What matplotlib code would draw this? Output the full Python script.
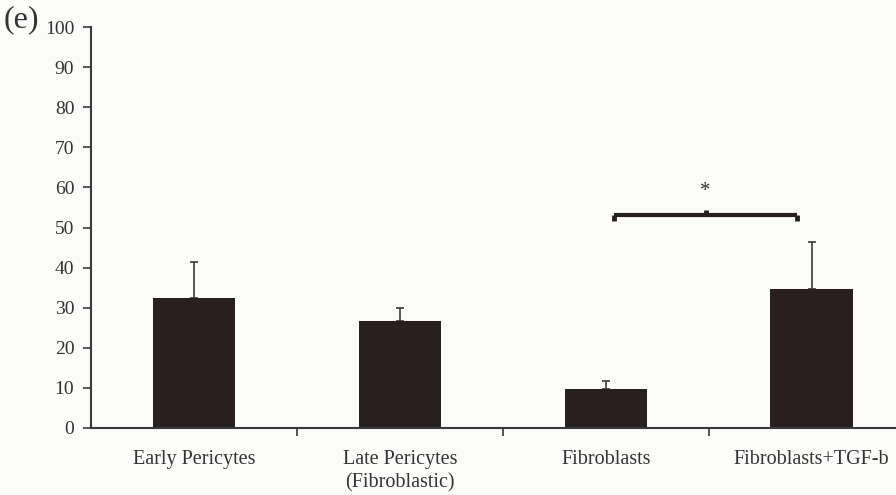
import matplotlib
matplotlib.use("Agg")
import matplotlib.pyplot as plt
import numpy as np

# Data
categories = ["Early Pericytes", "Late Pericytes\n(Fibroblastic)", "Fibroblasts", "Fibroblasts+TGF-b"]
values = [32.3, 26.6, 9.7, 34.7]
errors = [9.2, 3.4, 2.0, 11.8]
yticks = [0, 10, 20, 30, 40, 50, 60, 70, 80, 90, 100]
bracket_y = 53.0

plt.rcParams["font.family"] = ["Liberation Serif", "DejaVu Serif"]

fig = plt.figure(figsize=(8.96, 4.95), dpi=100)
fig.patch.set_facecolor("#fbfbf9")
ax = fig.add_axes([91 / 896, 1 - 428 / 495, 1 - 91 / 896, 401 / 495])
ax.set_facecolor("none")

bar_color = "#2a1f20"
edge = "#3a3a3a"
x = np.arange(len(categories))
ax.bar(x, values, width=0.4, color=bar_color, zorder=2)
ax.errorbar(x, values, yerr=[np.zeros(len(errors)), errors], fmt="none",
            ecolor="#3a3a3a", elinewidth=1.2, capsize=3, capthick=1.2, zorder=1)

ax.set_ylim(0, 100)
ax.set_xlim(-0.5, 3.41)
ax.set_yticks(yticks)
ax.set_yticklabels([str(t) for t in yticks], fontsize=14, color="#333333")
ax.tick_params(axis="y", direction="out", length=6, width=1.2, color=edge, pad=6)

ax.set_xticks(x)
ax.set_xticklabels(categories, fontsize=14.5, color="#333333", va="top", linespacing=1.25)
ax.tick_params(axis="x", length=0, pad=16)
ax.set_xticks([0.5, 1.5, 2.5], minor=True)
ax.tick_params(axis="x", which="minor", direction="out", length=6, width=1.2, color=edge)

for s in ["top", "right"]:
    ax.spines[s].set_visible(False)
for s in ["left", "bottom"]:
    ax.spines[s].set_color(edge)
    ax.spines[s].set_linewidth(1.5)

# significance bracket between Fibroblasts and Fibroblasts+TGF-b
x1, x2 = 2.04, 2.93
ax.plot([x1, x2], [bracket_y, bracket_y], color="#2a1f20", lw=3, solid_capstyle="butt")
ax.plot([x1, x1], [bracket_y - 1.3, bracket_y], color="#2a1f20", lw=3.5, solid_capstyle="butt")
ax.plot([x2, x2], [bracket_y - 1.3, bracket_y], color="#2a1f20", lw=3.5, solid_capstyle="butt")
ax.plot([(x1 + x2) / 2] * 2, [bracket_y, bracket_y + 1.3], color="#2a1f20", lw=3.5, solid_capstyle="butt")
ax.text((x1 + x2) / 2, bracket_y + 3.5, "*", ha="center", va="bottom", fontsize=15, color="#333333")

fig.text(4 / 896, 1 - 20 / 495, "(e)", fontsize=23, color="#333333", va="center", ha="left")

fig.savefig("out.png", dpi=100, facecolor=fig.get_facecolor())
